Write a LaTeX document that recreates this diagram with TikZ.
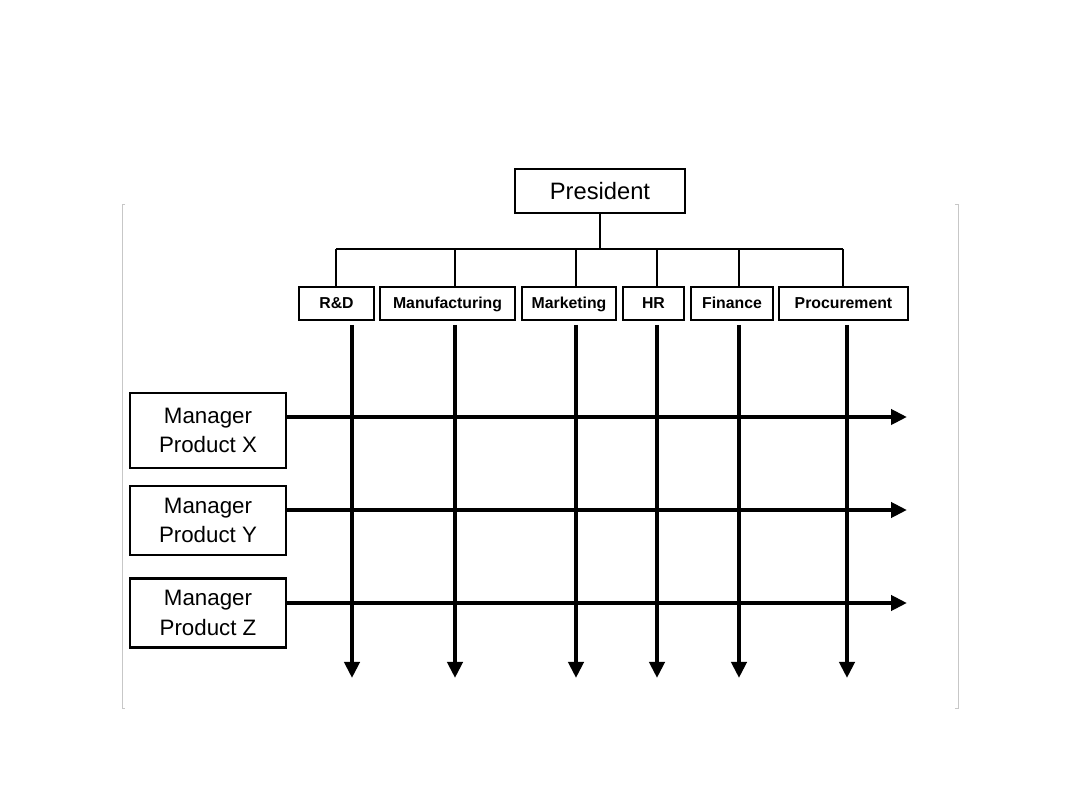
\documentclass[tikz,border=0pt]{standalone}
\usepackage{fontspec}
\setmainfont{Liberation Sans}
\usetikzlibrary{arrows.meta}
\begin{document}
\begin{tikzpicture}[x=0.02cm,y=-0.02cm,
  box/.style={draw=black,line width=2.5*0.02cm,fill=white,inner sep=0pt,align=center},
  deptbox/.style={box,minimum height=33*0.02cm,text height=6.4pt,text depth=1.2pt,font=\bfseries\fontsize{9}{11}\selectfont},
  mgrbox/.style={box,minimum width=156*0.02cm,font=\fontsize{12.7}{17}\selectfont},
  treeline/.style={line width=2*0.02cm},
  flow/.style={line width=4.8*0.02cm,-{Triangle[width=15*0.02cm,length=16*0.02cm]}},
  frameline/.style={draw=black!22,line width=0.5pt}]
\useasboundingbox (0,0) rectangle (1080,810);
% faint frame
\draw[frameline] (125,204) -- (122,204) -- (122,708) -- (125,708);
\draw[frameline] (955,204) -- (958,204) -- (958,708) -- (955,708);
% president
\node[box,minimum width=170*0.02cm,minimum height=44*0.02cm,font=\fontsize{13.5}{15}\selectfont] (pres) at (600,191) {President};
% departments
\node[deptbox,minimum width=75*0.02cm] (rd) at (336.5,303.5) {R\&D};
\node[deptbox,minimum width=135*0.02cm] (mfg) at (447.5,303.5) {Manufacturing};
\node[deptbox,minimum width=94*0.02cm] (mkt) at (569,303.5) {Marketing};
\node[deptbox,minimum width=61*0.02cm] (hr) at (653.5,303.5) {HR};
\node[deptbox,minimum width=82*0.02cm] (fin) at (732,303.5) {Finance};
\node[deptbox,minimum width=129*0.02cm] (proc) at (843.5,303.5) {Procurement};
% tree
\coordinate (busc) at (600,249);
\coordinate (b1) at (336,249);
\coordinate (b2) at (455,249);
\coordinate (b3) at (576,249);
\coordinate (b4) at (657,249);
\coordinate (b5) at (739,249);
\coordinate (b6) at (843,249);
\draw[treeline] (pres.south) -- (busc);
\draw[treeline] (b1) -- (b6);
\draw[treeline] (b1) -- (b1 |- rd.north);
\draw[treeline] (b2) -- (b2 |- mfg.north);
\draw[treeline] (b3) -- (b3 |- mkt.north);
\draw[treeline] (b4) -- (b4 |- hr.north);
\draw[treeline] (b5) -- (b5 |- fin.north);
\draw[treeline] (b6) -- (b6 |- proc.north);
% managers
\node[mgrbox,minimum height=75*0.02cm] (mx) at (208,430.5) {Manager\\Product X};
\node[mgrbox,minimum height=69*0.02cm] (my) at (208,520.5) {Manager\\Product Y};
\node[mgrbox,minimum height=69*0.02cm] (mz) at (208,613) {Manager\\Product Z};
% end points
\coordinate (ex) at (907,417);
\coordinate (ey) at (907,510);
\coordinate (ez) at (907,603);
\coordinate (d1) at (352,678);
\coordinate (d2) at (455,678);
\coordinate (d3) at (576,678);
\coordinate (d4) at (657,678);
\coordinate (d5) at (739,678);
\coordinate (d6) at (847,678);
% vertical flows
\draw[flow] (d1 |- 0,325) -- (d1);
\draw[flow] (d2 |- 0,325) -- (d2);
\draw[flow] (d3 |- 0,325) -- (d3);
\draw[flow] (d4 |- 0,325) -- (d4);
\draw[flow] (d5 |- 0,325) -- (d5);
\draw[flow] (d6 |- 0,325) -- (d6);
% horizontal flows
\draw[flow] (mx.east |- ex) -- (ex);
\draw[flow] (my.east |- ey) -- (ey);
\draw[flow] (mz.east |- ez) -- (ez);
\end{tikzpicture}
\end{document}
